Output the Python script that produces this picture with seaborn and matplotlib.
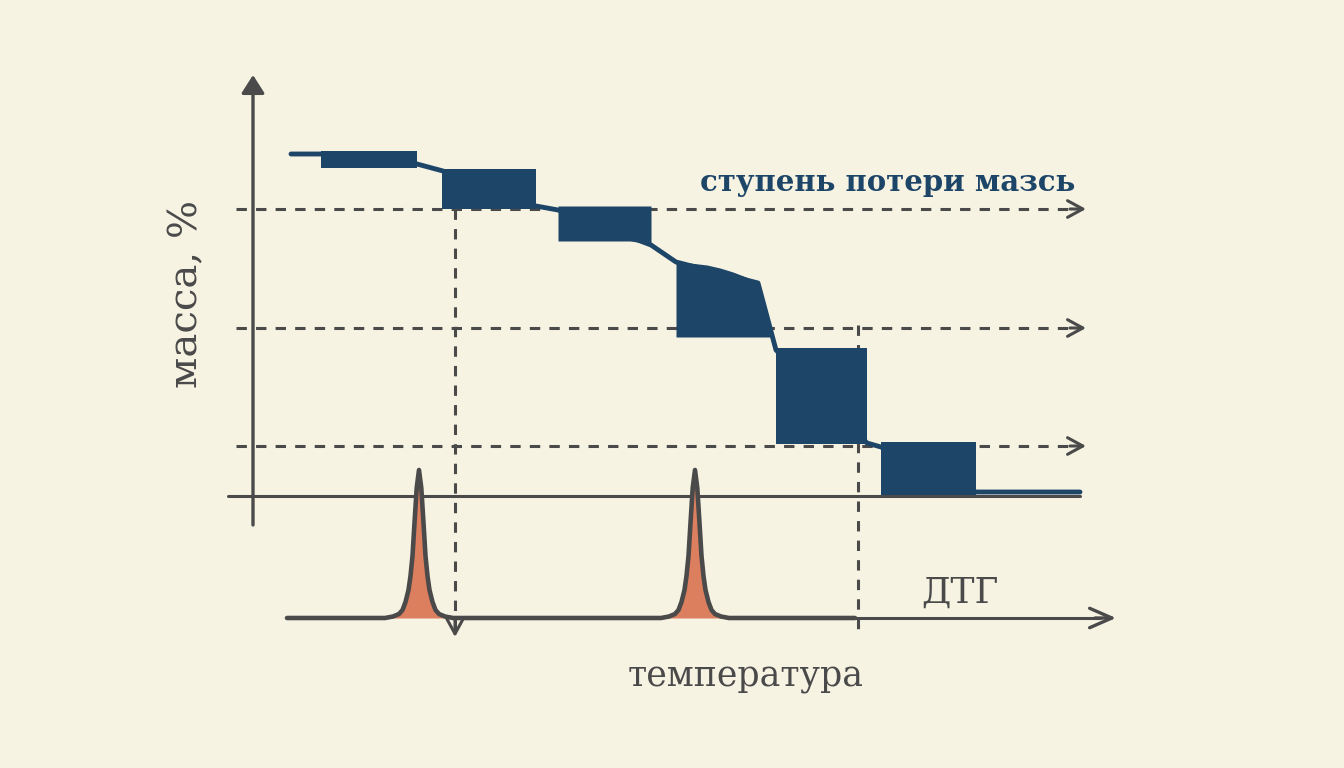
import matplotlib.pyplot as plt
import seaborn as sns
import numpy as np

# schematic TG / DTG diagram, values in picture units (x -> temperature, y -> down the page)
sns.set_theme(style="white")
plt.rcParams['font.family'] = ['DejaVu Serif', 'DejaVu Sans']

bg = "#F7F3E3"
navy = "#1D4568"
gray = "#4A4A4A"
orange = "#DC7F5F"

# mass-loss blocks (each: x points, top edge, bottom edge)
block_x = [
    [321, 417],
    [442, 536],
    [558, 630, 645, 651],
    [676, 690, 707, 720, 733, 746, 758, 770],
    [776, 867],
    [881, 976],
]
block_top = [
    [151, 151],
    [169, 169],
    [206, 206, 206, 206],
    [262, 263, 265, 268, 272, 277, 283, 337],
    [348, 348],
    [442, 442],
]
block_bottom = [
    [168, 168],
    [209, 209],
    [241, 241, 243, 245],
    [337, 337, 337, 337, 337, 337, 337, 337],
    [444, 444],
    [495, 495],
]

# TG curve running through the blocks
tg_x = [291, 321, 417, 443, 536, 558, 651, 676, 758, 776, 867, 881, 976, 1080]
tg_y = [154, 154, 164, 171, 206, 210, 245, 262, 283, 350, 443, 447, 492, 492]

# DTG curve: baseline and the two peaks (offset from peak centre, height above baseline)
dtg_base = 618
dtg_start, dtg_end = 287, 855
peak_centres = [419, 695]
peak_dx = [-34, -26, -20, -16.5, -13.5, -10.5, -8.5, -6.5, -4.5, -2.3, 0,
           2.3, 4.5, 6.5, 8.5, 10.5, 13.5, 16.5, 20, 26, 34]
peak_h = [0, 1.5, 4, 8, 16, 28, 42, 62, 95, 130, 148, 130, 95, 62, 42, 28, 16, 8, 4, 1.5, 0]

# guide lines
level_y = [209, 328, 446]
drop_x = [455, 858]
drop_top = [209, 325]
drop_end = [630, 632]

dtg_x = [dtg_start]
dtg_y = [dtg_base]
for c in peak_centres:
    dtg_x += [c + d for d in peak_dx]
    dtg_y += [dtg_base - h for h in peak_h]
dtg_x.append(dtg_end)
dtg_y.append(dtg_base)

fig = plt.figure(figsize=(13.44, 7.68), dpi=100, facecolor=bg)
ax = fig.add_axes([0, 0, 1, 1])
ax.set_facecolor(bg)
ax.set_xlim(0, 1344)
ax.set_ylim(768, 0)
ax.axis('off')

dash = (0, (3.4, 3.0))
chev = dict(arrowstyle='->, head_length=1.1, head_width=0.6', color=gray, lw=2.2,
            mutation_scale=10, shrinkA=0, shrinkB=0)

# dashed level lines with open arrowheads
for y in level_y:
    ax.plot([236, 1078], [y, y], color=gray, lw=2.2, linestyle=dash, zorder=1)
    ax.annotate('', xy=(1086, y), xytext=(1070, y), arrowprops=chev, zorder=1)

# vertical dashed drop lines
for x, y0, y1 in zip(drop_x, drop_top, drop_end):
    ax.plot([x, x], [y0, y1], color=gray, lw=2.2, linestyle=dash, zorder=1)
ax.annotate('', xy=(drop_x[0], 637), xytext=(drop_x[0], 620), arrowprops=chev, zorder=1)

# axes of the schematic
ax.plot([228, 1080], [496, 496], color=gray, lw=2.2, zorder=2)
ax.annotate('', xy=(253, 75), xytext=(253, 525),
            arrowprops=dict(arrowstyle='-|>, head_length=1.1, head_width=0.7', color=gray,
                            lw=2.4, mutation_scale=10, shrinkA=0, shrinkB=0))
ax.plot([dtg_end, 1100], [dtg_base, dtg_base], color=gray, lw=2.2, zorder=2)
ax.annotate('', xy=(1116, dtg_base), xytext=(1095, dtg_base),
            arrowprops=dict(arrowstyle='->, head_length=1.6, head_width=0.7', color=gray,
                            lw=2.4, mutation_scale=10, shrinkA=0, shrinkB=0))

# TG curve and mass-loss blocks
sns.lineplot(x=tg_x, y=tg_y, sort=False, estimator=None, color=navy, lw=3.5, ax=ax, zorder=3)
for xs, top, bot in zip(block_x, block_top, block_bottom):
    ax.fill_between(xs, top, bot, color=navy, lw=0, zorder=4)

# DTG curve with filled peaks
ax.fill_between(dtg_x, dtg_y, dtg_base, color=orange, lw=0, zorder=3)
sns.lineplot(x=dtg_x, y=dtg_y, sort=False, estimator=None, color=gray, lw=3.3, ax=ax, zorder=4)
for line in ax.lines:
    line.set_solid_capstyle('round')

# labels
ax.text(1075, 191, "ступень потери мазсь", color=navy, fontsize=21, fontweight='bold',
        ha='right', va='baseline')
ax.text(187, 294, "масса, %", color=gray, fontsize=29, rotation=90, ha='center', va='center')
ax.text(960, 603, "ДТГ", color=gray, fontsize=26, ha='center', va='baseline')
ax.text(746, 686, "температура", color=gray, fontsize=25, ha='center', va='baseline')

fig.savefig("out.png", dpi=100, facecolor=bg)
